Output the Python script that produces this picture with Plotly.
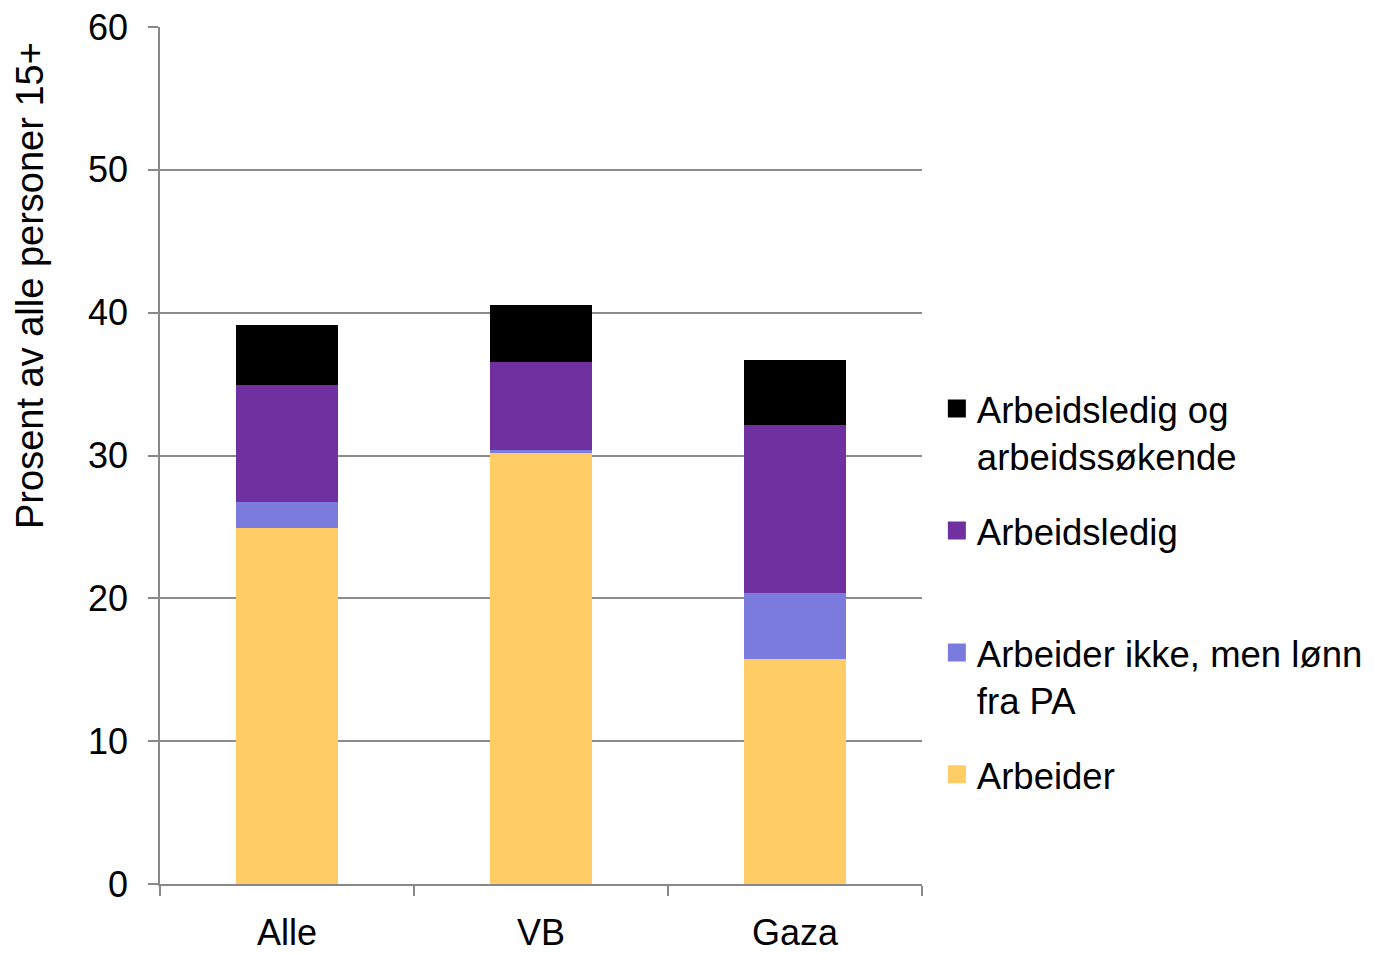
import plotly.graph_objects as go

categories = ["Alle", "VB", "Gaza"]
arbeider = [24.95, 30.2, 15.77]
lonn_fra_pa = [1.82, 0.21, 4.63]
arbeidsledig = [8.2, 6.17, 11.77]
ledig_sokende = [4.14, 3.93, 4.49]

series = [
    ("Arbeider", arbeider, "#FFCC66", "Arbeider<br>\u00a0"),
    ("Arbeider ikke, men lønn fra PA", lonn_fra_pa, "#7B7BDE", "Arbeider ikke, men lønn<br>fra PA"),
    ("Arbeidsledig", arbeidsledig, "#7030A0", "Arbeidsledig<br>\u00a0"),
    ("Arbeidsledig og arbeidssøkende", ledig_sokende, "#000000", "Arbeidsledig og<br>arbeidssøkende"),
]

y_ticks = [0, 10, 20, 30, 40, 50, 60]
FONT = "Liberation Sans, Arial, sans-serif"

fig = go.Figure()
for name, vals, color, label in series:
    fig.add_trace(go.Bar(
        x=categories, y=vals, name=name, marker=dict(color=color, line=dict(width=0)),
        showlegend=False,
    ))
# legend entries, top to bottom as in the reference (reverse stacking order)
for i, (name, vals, color, label) in enumerate(reversed(series)):
    fig.add_trace(go.Scatter(
        x=[None], y=[None], mode="markers", name=label, legendgroup=f"g{i}",
        marker=dict(symbol="square", size=16, color=color, line=dict(width=2, color=color)),
        showlegend=True, hoverinfo="skip",
    ))

# page body has an 8px margin, so margins are offset by 8px to land on the reference positions
fig.update_layout(
    width=1374, height=954,
    barmode="stack", bargap=0.6,
    paper_bgcolor="white", plot_bgcolor="white",
    margin=dict(l=152, r=460, t=19, b=78, autoexpand=False),
    font=dict(family=FONT, size=36, color="#000000"),
    showlegend=True,
    legend=dict(
        x=1.0195, y=0.590, xanchor="left", yanchor="top",
        traceorder="grouped", tracegroupgap=24,
        valign="top", font=dict(size=36.5, family=FONT),
        bgcolor="rgba(0,0,0,0)", borderwidth=0,
    ),
    xaxis=dict(
        type="category", showgrid=False, showline=True, linecolor="#888888", linewidth=1.5,
        ticks="outside", ticklen=10, tickcolor="#888888", tickwidth=1.5, tickson="boundaries",
        ticklabelstandoff=16, tickfont=dict(size=36), automargin=False,
        ticklabeloverflow="allow",
    ),
    yaxis=dict(
        range=[0, 60], tickvals=y_ticks, ticktext=[str(v) for v in y_ticks],
        showgrid=True, gridcolor="#8c8c8c", gridwidth=1.5,
        showline=True, linecolor="#888888", linewidth=1.5,
        ticks="outside", ticklen=10, tickcolor="#888888", tickwidth=1.5,
        ticklabelstandoff=13, tickfont=dict(size=36), zeroline=False, automargin=False,
        ticklabeloverflow="allow",
    ),
    annotations=[dict(
        text="Prosent av alle personer 15+", textangle=-90,
        xref="paper", yref="paper", x=(30 - 160) / 762, y=(884 - 286) / 857,
        xanchor="center", yanchor="middle", showarrow=False,
        font=dict(size=38, family=FONT, color="#000000"),
    )],
)

fig.write_html("out.html")
